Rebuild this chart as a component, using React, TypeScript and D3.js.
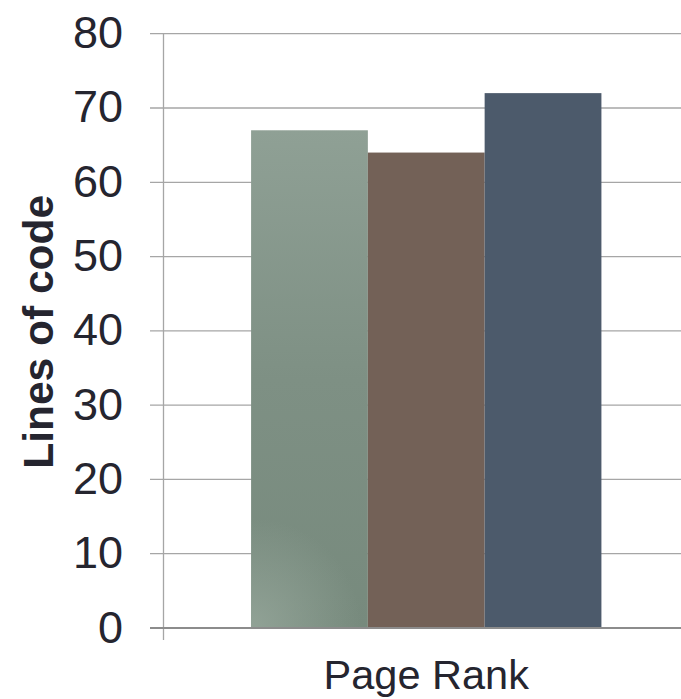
import React from "react";
import * as d3 from "d3";

const categories = ["Page Rank"];
const seriesNames = ["Series A", "Series B", "Series C"];
const seriesValues = [67, 64, 72];
const yTicks = [0, 10, 20, 30, 40, 50, 60, 70, 80];
const yLabel = "Lines of code";

const W = 681;
const H = 699;
const left = 163.5;
const right = 689;
const top = 33.7;
const bottom = 628;

export default function App() {
  const y = d3.scaleLinear().domain([0, 80]).range([bottom, top]);
  const x0 = d3.scaleBand().domain(categories).range([left, right]).padding(0.2);
  const x1 = d3.scaleBand().domain(seriesNames).range([0, x0.bandwidth()]).padding(0);
  const fills = ["url(#g1)", "#736157", "#4c5a6b"];
  const font = "Liberation Sans, Arial, Helvetica, sans-serif";
  const bx = (x0(categories[0]) ?? 0) + (x1(seriesNames[0]) ?? 0);
  return (
    <svg width={W} height={H} style={{ position: "absolute", left: 0, top: 0, background: "#fff" }}>
      <defs>
        <linearGradient id="g1" x1="0" y1="0" x2="0" y2="1">
          <stop offset="0" stopColor="#8fa095" />
          <stop offset="0.5" stopColor="#7e9084" />
          <stop offset="1" stopColor="#778a7d" />
        </linearGradient>
        <radialGradient id="g1r" gradientUnits="userSpaceOnUse" cx={bx} cy={bottom} r={110}>
          <stop offset="0" stopColor="#94a599" stopOpacity="0.9" />
          <stop offset="1" stopColor="#94a599" stopOpacity="0" />
        </radialGradient>
      </defs>
      {yTicks.map((t) => (
        <g key={t}>
          {t !== 0 && (
            <line x1={150} x2={W} y1={y(t)} y2={y(t)} stroke="#a6a6a6" strokeWidth={1.3} />
          )}
          <text x={123} y={y(t) + 14.5} textAnchor="end" fontFamily={font} fontSize={45} fill="#25252f">
            {t}
          </text>
        </g>
      ))}
      <line x1={left} x2={left} y1={top} y2={640} stroke="#a6a6a6" strokeWidth={1.3} />
      {categories.map((c) => (
        <g key={c} transform={`translate(${x0(c)},0)`}>
          {seriesNames.map((s, i) => (
            <g key={s}>
              <rect
                x={x1(s)}
                y={y(seriesValues[i])}
                width={x1.bandwidth()}
                height={bottom - y(seriesValues[i])}
                fill={fills[i]}
              />
              {i === 0 && (
                <rect
                  x={x1(s)}
                  y={y(seriesValues[i])}
                  width={x1.bandwidth()}
                  height={bottom - y(seriesValues[i])}
                  fill="url(#g1r)"
                  transform={`translate(${-(x0(c) ?? 0)},0)`}
                  style={{ display: "none" }}
                />
              )}
            </g>
          ))}
          <text
            x={x0.bandwidth() / 2}
            y={689}
            textAnchor="middle"
            fontFamily={font}
            fontSize={41.5}
            fill="#25252f"
          >
            {c}
          </text>
        </g>
      ))}
      <rect
        x={bx}
        y={y(seriesValues[0])}
        width={x1.bandwidth()}
        height={bottom - y(seriesValues[0])}
        fill="url(#g1r)"
      />
      <line x1={150} x2={W} y1={bottom} y2={bottom} stroke="#8c8c8c" strokeWidth={2} />
      <text
        transform={`translate(53,${(top + bottom) / 2 + 1}) rotate(-90)`}
        textAnchor="middle"
        fontFamily={font}
        fontWeight="bold"
        fontSize={42.5}
        fill="#25252f"
      >
        {yLabel}
      </text>
    </svg>
  );
}
